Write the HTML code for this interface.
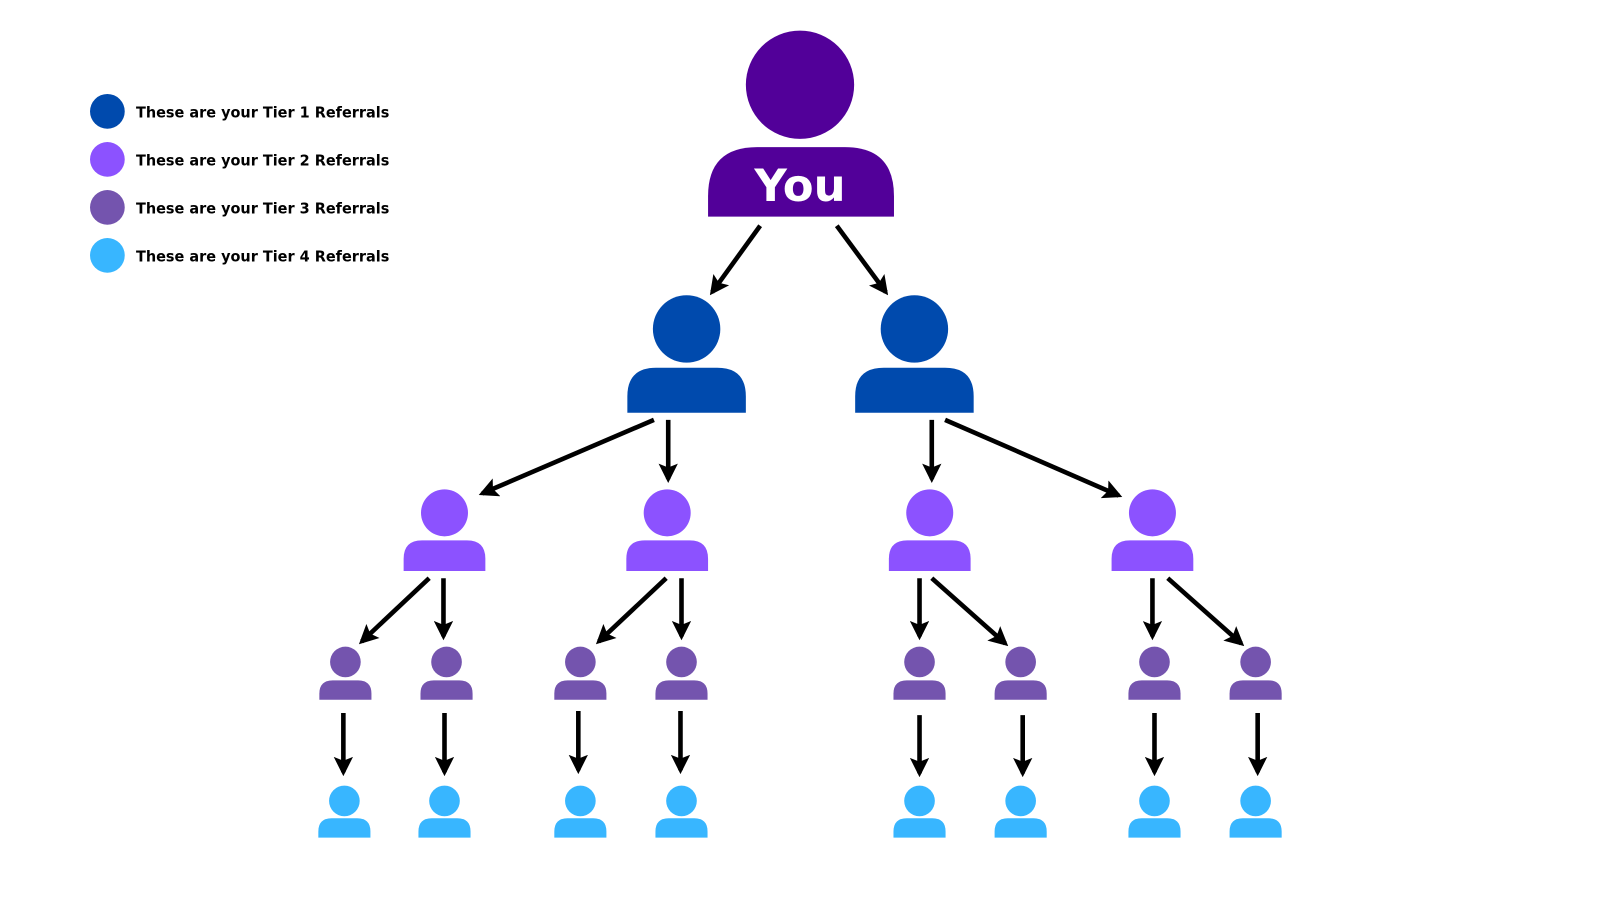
<!DOCTYPE html>
<html><head><meta charset="utf-8"><style>
html,body{margin:0;padding:0;background:#fff;width:1600px;height:900px;overflow:hidden}
svg{display:block}
</style></head><body>
<svg id="s" width="1600" height="900" viewBox="0 0 1566 881" xmlns="http://www.w3.org/2000/svg">
<defs>
<marker id="ah" viewBox="0 0 10 10" refX="8" refY="5" markerWidth="4.2" markerHeight="4.2" orient="auto" markerUnits="strokeWidth">
<path d="M0,0 L10,5 L0,10 L2,5 z" fill="#000"/>
</marker>
</defs>
<g font-family="DejaVu Sans, Liberation Sans, sans-serif" font-weight="bold" font-size="15" fill="#000">
<circle cx="105" cy="109" r="17" fill="#004aad"/><text x="133" y="115" textLength="248" lengthAdjust="spacingAndGlyphs">These are your Tier 1 Referrals</text>
<circle cx="105" cy="156" r="17" fill="#8c52ff"/><text x="133" y="162" textLength="248" lengthAdjust="spacingAndGlyphs">These are your Tier 2 Referrals</text>
<circle cx="105" cy="203" r="17" fill="#7454ae"/><text x="133" y="209" textLength="248" lengthAdjust="spacingAndGlyphs">These are your Tier 3 Referrals</text>
<circle cx="105" cy="250" r="17" fill="#38b6ff"/><text x="133" y="256" textLength="248" lengthAdjust="spacingAndGlyphs">These are your Tier 4 Referrals</text>
</g>
<g id="nodes"></g>
<g id="arrows" stroke="#000" stroke-width="4.5" fill="none" marker-end="url(#ah)"></g>
<text x="783" y="197" text-anchor="middle" font-family="DejaVu Sans, Liberation Sans, sans-serif" font-weight="bold" font-size="44" fill="#fff">You</text>
</svg>
<script>
var ns="http://www.w3.org/2000/svg";
function person(cx,hy,r,bx1,bx2,by1,by2,rad,col){
 var g=document.getElementById('nodes');
 var c=document.createElementNS(ns,'circle');c.setAttribute('cx',cx);c.setAttribute('cy',hy);c.setAttribute('r',r);c.setAttribute('fill',col);g.appendChild(c);
 var p=document.createElementNS(ns,'path');
 p.setAttribute('d','M'+bx1+','+by2+' L'+bx1+','+(by1+rad)+' Q'+bx1+','+by1+' '+(bx1+rad)+','+by1+' L'+(bx2-rad)+','+by1+' Q'+bx2+','+by1+' '+bx2+','+(by1+rad)+' L'+bx2+','+by2+' Z');
 p.setAttribute('fill',col);g.appendChild(p);
}
person(783,83,53,693,875,144,212,48,'#520099');
[672,895].forEach(function(x){person(x,322,33,x-58,x+58,360,404,28,'#004aad');});
[435,653,910,1128].forEach(function(x){person(x,502,23,x-40,x+40,529,559,18,'#8c52ff');});
[338,437,568,667,900,999,1130,1229].forEach(function(x){person(x,648,15,x-25.5,x+25.5,666,685,13,'#7454ae');});
[337,435,568,667,900,999,1130,1229].forEach(function(x){person(x,784,15,x-25.5,x+25.5,801,820,13,'#38b6ff');});
var A=[[744,221,697,286],[819,221,867,286],[640,411,472,483],[654,411,654,469],[912,411,912,469],[925,411,1095,485],
[420,566,354,628],[434,566,434,623],[652,566,586,628],[667,566,667,623],[900,566,900,623],[912,566,984,630],[1128,566,1128,623],[1143,566,1215,630],
[336,698,336,756],[435,698,435,756],[566,696,566,754],[666,696,666,754],[900,700,900,757],[1001,700,1001,757],[1130,698,1130,756],[1231,698,1231,756]];
var ag=document.getElementById('arrows');
A.forEach(function(a){var l=document.createElementNS(ns,'line');l.setAttribute('x1',a[0]);l.setAttribute('y1',a[1]);l.setAttribute('x2',a[2]);l.setAttribute('y2',a[3]);ag.appendChild(l);});
</script>
</body></html>
